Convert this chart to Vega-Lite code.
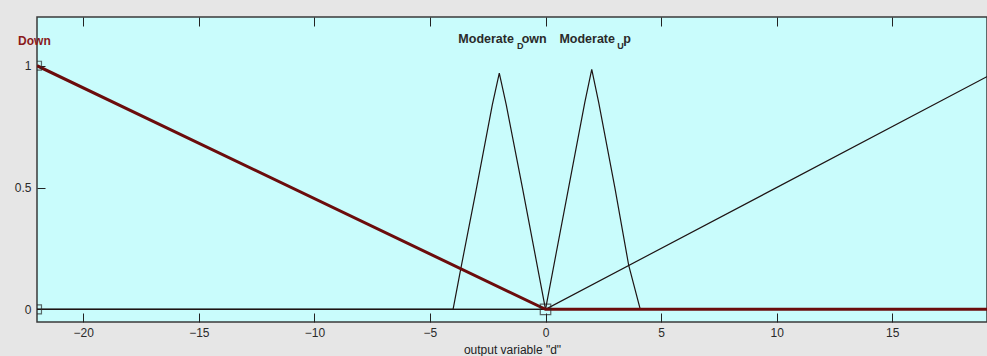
{
  "$schema": "https://vega.github.io/schema/vega-lite/v6.json",
  "width": 950,
  "height": 305,
  "autosize": {"type": "none"},
  "padding": {"left": 37, "right": 0, "top": 17, "bottom": 34},
  "background": "#e6e6e6",
  "config": {
    "view": {"fill": "#c9fcfc", "stroke": "#3a3a3a", "strokeWidth": 1.5},
    "font": "Liberation Sans",
    "axis": {"labelFont": "Liberation Sans", "labelFontSize": 12, "labelColor": "#2a2a2a", "titleFont": "Liberation Sans", "titleFontSize": 12, "titleFontWeight": "normal", "titleColor": "#222", "tickColor": "#222", "domain": false, "grid": false}
  },
  "resolve": {"axis": {"x": "independent", "y": "independent"}},
  "datasets": {
    "mf": [
      {"mf": "Up", "x": -22, "y": 0},
      {"mf": "Up", "x": 0, "y": 0},
      {"mf": "Up", "x": 20, "y": 1},
      {"mf": "Moderate_Down", "x": -22, "y": 0},
      {"mf": "Moderate_Down", "x": -4, "y": 0},
      {"mf": "Moderate_Down", "x": -3.7, "y": 0.15},
      {"mf": "Moderate_Down", "x": -3, "y": 0.49},
      {"mf": "Moderate_Down", "x": -2.3, "y": 0.84},
      {"mf": "Moderate_Down", "x": -2, "y": 0.97},
      {"mf": "Moderate_Down", "x": -1.7, "y": 0.84},
      {"mf": "Moderate_Down", "x": -1, "y": 0.5},
      {"mf": "Moderate_Down", "x": -0.3, "y": 0.15},
      {"mf": "Moderate_Down", "x": 0, "y": 0},
      {"mf": "Moderate_Down", "x": 19.1, "y": 0},
      {"mf": "Moderate_Up", "x": -22, "y": 0},
      {"mf": "Moderate_Up", "x": 0, "y": 0},
      {"mf": "Moderate_Up", "x": 0.3, "y": 0.15},
      {"mf": "Moderate_Up", "x": 1, "y": 0.5},
      {"mf": "Moderate_Up", "x": 1.7, "y": 0.85},
      {"mf": "Moderate_Up", "x": 2, "y": 0.985},
      {"mf": "Moderate_Up", "x": 2.3, "y": 0.85},
      {"mf": "Moderate_Up", "x": 3, "y": 0.5},
      {"mf": "Moderate_Up", "x": 3.6, "y": 0.18},
      {"mf": "Moderate_Up", "x": 4.1, "y": 0},
      {"mf": "Moderate_Up", "x": 19.1, "y": 0},
      {"mf": "Down", "x": -22, "y": 1},
      {"mf": "Down", "x": 0, "y": 0},
      {"mf": "Down", "x": 19.1, "y": 0}
    ],
    "markers": [
      {"x": -22, "y": 1, "kind": "small"},
      {"x": -22, "y": 0, "kind": "small"},
      {"x": 0, "y": 0, "kind": "big"}
    ],
    "labels": [
      {"label": "Moderate", "x": -3.77, "y": 1.108, "kind": "main"},
      {"label": "D", "x": -1.23, "y": 1.08, "kind": "sub"},
      {"label": "own", "x": -1.03, "y": 1.108, "kind": "main"},
      {"label": "Moderate", "x": 0.6, "y": 1.108, "kind": "main"},
      {"label": "U", "x": 3.1, "y": 1.08, "kind": "sub"},
      {"label": "p", "x": 3.36, "y": 1.108, "kind": "main"}
    ],
    "title": [
      {"label": "Down", "x": -22.82, "y": 1.1}
    ]
  },
  "layer": [
    {
      "data": {"name": "mf"},
      "transform": [{"filter": "datum.mf != 'Down'"}],
      "mark": {"type": "line", "clip": true, "color": "#1e1414", "strokeWidth": 1.2},
      "encoding": {
        "x": {"field": "x", "type": "quantitative", "scale": {"domain": [-22, 19.1], "nice": false, "zero": false},
          "axis": {"orient": "bottom", "values": [-20, -15, -10, -5, 0, 5, 10, 15], "tickSize": -9, "labelPadding": 14, "title": "output variable \"d\"", "titlePadding": 6}},
        "y": {"field": "y", "type": "quantitative", "scale": {"domain": [-0.052, 1.2], "nice": false, "zero": false},
          "axis": {"orient": "left", "values": [0, 0.5, 1], "format": "~g", "tickSize": -8, "labelPadding": 14, "title": null}},
        "detail": {"field": "mf", "type": "nominal"},
        "order": {"field": "x", "type": "quantitative"}
      }
    },
    {
      "data": {"name": "mf"},
      "transform": [{"filter": "datum.mf == 'Down'"}],
      "mark": {"type": "line", "clip": true, "color": "#6b0c0c", "strokeWidth": 3},
      "encoding": {
        "x": {"field": "x", "type": "quantitative", "axis": {"orient": "top", "values": [-20, -15, -10, -5, 0, 5, 10, 15], "tickSize": -9, "labels": false, "title": null}},
        "y": {"field": "y", "type": "quantitative", "axis": null},
        "order": {"field": "x", "type": "quantitative"}
      }
    },
    {
      "data": {"name": "markers"},
      "mark": {"type": "point", "shape": "square", "filled": false, "clip": true, "color": "#2a2a2a", "strokeWidth": 1.2},
      "encoding": {
        "x": {"field": "x", "type": "quantitative", "axis": null},
        "y": {"field": "y", "type": "quantitative", "axis": null},
        "size": {"field": "kind", "type": "nominal", "scale": {"domain": ["small", "big"], "range": [80, 110]}, "legend": null}
      }
    },
    {
      "data": {"name": "labels"},
      "transform": [{"filter": "datum.kind == 'main'"}],
      "mark": {"type": "text", "align": "left", "baseline": "middle", "font": "Liberation Sans", "fontSize": 12.5, "fontWeight": "bold", "color": "#2a2a2a"},
      "encoding": {
        "x": {"field": "x", "type": "quantitative", "axis": null},
        "y": {"field": "y", "type": "quantitative", "axis": null},
        "text": {"field": "label"}
      }
    },
    {
      "data": {"name": "labels"},
      "transform": [{"filter": "datum.kind == 'sub'"}],
      "mark": {"type": "text", "align": "left", "baseline": "middle", "font": "Liberation Sans", "fontSize": 9, "fontWeight": "bold", "color": "#2a2a2a"},
      "encoding": {
        "x": {"field": "x", "type": "quantitative", "axis": null},
        "y": {"field": "y", "type": "quantitative", "axis": null},
        "text": {"field": "label"}
      }
    },
    {
      "data": {"name": "title"},
      "mark": {"type": "text", "align": "left", "baseline": "middle", "font": "Liberation Sans", "fontSize": 12, "fontWeight": "bold", "color": "#8a1a1a"},
      "encoding": {
        "x": {"field": "x", "type": "quantitative", "axis": null},
        "y": {"field": "y", "type": "quantitative", "axis": null},
        "text": {"field": "label"}
      }
    }
  ]
}
